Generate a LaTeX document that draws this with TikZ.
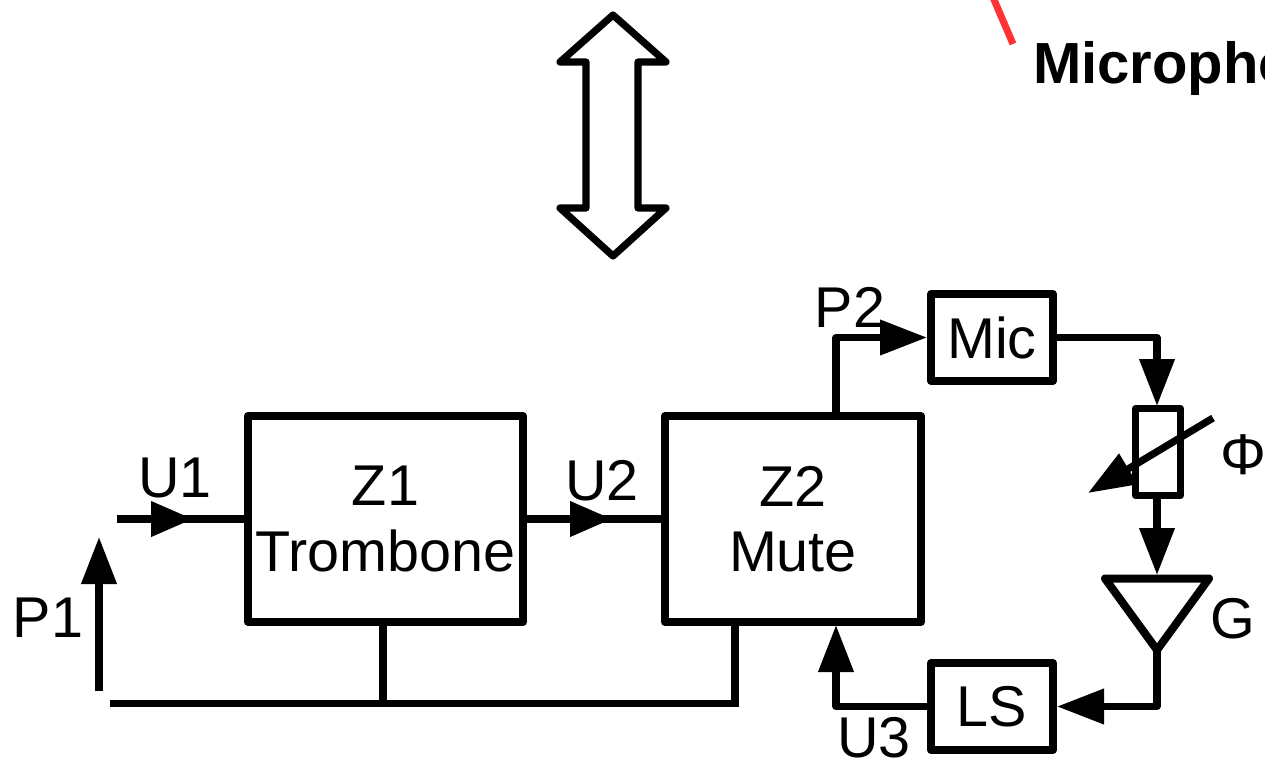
\documentclass[tikz,border=0pt]{standalone}
\usepackage{fontspec}
\setmainfont{Liberation Sans}
\usetikzlibrary{arrows.meta}
\tikzset{
  wire/.style={line width=7.2pt,line join=round,line cap=butt},
  arr/.style={wire,-{Triangle[length=47pt,width=34pt]}},
  arrs/.style={wire,-{Triangle[length=42pt,width=34pt]}},
  blk/.style={draw,line width=8pt,line join=round,inner sep=0pt,align=center,font=\fontsize{57.5}{65.5}\selectfont},
  lbl/.style={inner sep=0pt,anchor=base,font=\fontsize{57.5}{65.5}\selectfont},
}
\begin{document}
\begin{tikzpicture}[x=1pt,y=-1pt]
\useasboundingbox (0,0) rectangle (1265,761);
\fill[white] (0,0) rectangle (1265,761);
% double arrow
\draw[line width=7.2pt,line join=round] (613,15) -- (666,62) -- (638,62) -- (638,208) -- (666,208) -- (613,256) -- (560,208) -- (586,208) -- (586,62) -- (560,62) -- cycle;
% red line
\coordinate (ra) at (992,-5);
\coordinate (rb) at (1013,44);
\draw[line width=7pt,color={rgb,255:red,255;green,51;blue,51}] (ra) -- (rb);
\node[lbl,anchor=base west,font=\fontsize{58}{66}\selectfont\bfseries] (micro) at (1033,83) {Microphone};
% blocks
\node[blk,minimum width=275pt,minimum height=206pt] (Z1) at (385.5,519) {Z1\\Trombone};
\node[blk,minimum width=256pt,minimum height=206pt] (Z2) at (793,519) {Z2\\Mute};
\node[blk,minimum width=122pt,minimum height=87pt] (Mic) at (992,337.5) {Mic};
\node[blk,minimum width=122pt,minimum height=87pt] (LS) at (992,706.5) {LS};
\node[draw,line width=7pt,line join=round,inner sep=0pt,minimum width=45pt,minimum height=87pt] (R) at (1158,452) {};
% amplifier
\coordinate (gtop) at (1157,575);
\coordinate (gtip) at (1157,650);
\draw[line width=8pt,line join=round] (1105,578.5) -- (1209,578.5) -- (1157,650) -- cycle;
% connectors
\coordinate (u1s) at (117,519);
\coordinate (u1m) at (193,519);
\draw[wire] (u1s) -- (Z1.west);
\draw[arrs] (u1s) -- (u1m);
\coordinate (u2m) at (612,519);
\draw[wire] (Z1.east) -- (Z2.west);
\draw[arrs] (Z1.east) -- (u2m);
\coordinate (p2a) at (836,414);
\draw[arr] (p2a) |- (Mic.west);
\coordinate (rtop) at (1157,406);
\draw[arr] (Mic.east) -| (rtop);
\coordinate (rbot) at (1157,498);
\draw[arr] (rbot) -- (gtop);
\draw[arr] (gtip) |- (LS.east);
\coordinate (u3e) at (836,625);
\draw[arr] (LS.west) -| (u3e);
\coordinate (p1a) at (99,691);
\coordinate (p1b) at (99,537);
\draw[arr] (p1a) -- (p1b);
\coordinate (ba) at (110,703.5);
\coordinate (bb) at (738.5,703.5);
\coordinate (bm) at (383,703.5);
\coordinate (z1b) at (383,624);
\coordinate (z2b) at (735,624);
\draw[wire] (ba) -- (bb);
\draw[wire] (z1b) -- (bm);
\draw[wire] (z2b) -- (735,703.5);
% variable arrow
\coordinate (va) at (1213,418);
\coordinate (vb) at (1088,493);
\draw[arr] (va) -- (vb);
% labels
\node[lbl] (lu1) at (175,497) {U1};
\node[lbl] (lu2) at (602,500) {U2};
\node[lbl] (lp1) at (48,637) {P1};
\node[lbl] (lp2) at (850,327) {P2};
\node[lbl] (lu3) at (874,757) {U3};
\node[lbl] (lg) at (1233,638) {G};
\node[lbl] (lphi) at (1243,474) {Φ};
\end{tikzpicture}
\end{document}
